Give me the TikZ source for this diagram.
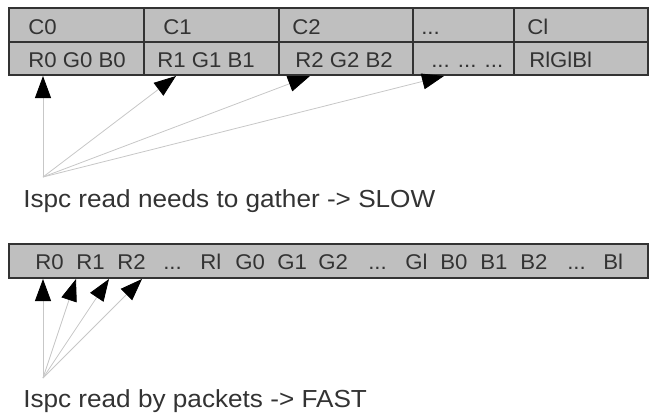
\documentclass[tikz,border=0pt]{standalone}
\usepackage{fontspec}
\setmainfont{Liberation Sans}
\newfontfamily\cellfont[FakeStretch=1.04]{Liberation Sans}
\newfontfamily\labfont[FakeStretch=1.06]{Liberation Sans}
\usetikzlibrary{arrows.meta}
\newcommand\mydots{...}
\begin{document}
\begin{tikzpicture}[x=0.75pt,y=-0.75pt,
  box/.style={draw=black!80, line width=1.2pt, fill=gray!50},
  sep/.style={draw=black!80, line width=1.2pt},
  txt/.style={anchor=base west, inner sep=0pt, text=black!80, font=\cellfont\fontsize{16}{19}\selectfont},
  lab/.style={anchor=base west, inner sep=0pt, text=black!80, font=\labfont\fontsize{18.5}{22}\selectfont},
  ptr/.style={draw=black!22, line width=0.6pt, -{Triangle[length=16.5pt,width=12pt,color=black]}}]
\useasboundingbox (0,0) rectangle (649,414);
% top table
\draw[box] (9,8) rectangle (648,75);
\draw[sep] (9,42) -- (648,42);
\foreach \x in {144,279,413,514} \draw[sep] (\x,8) -- (\x,75);
\node[txt] (c0) at (28,34) {C0};
\node[txt] (c1) at (163,34) {C1};
\node[txt] (c2) at (292,34) {C2};
\node[txt] (cd) at (421,34) {...};
\node[txt] (cl) at (527,34) {Cl};
\node[txt] (p0) at (28,67) {R0 G0 B0};
\node[txt] (p1) at (157,67) {R1 G1 B1};
\node[txt] (p2) at (295,67) {R2 G2 B2};
\node[txt] (pd) at (431,67) {... ... ...};
\node[txt] (pl) at (529,67) {RlGlBl};
% top arrows
\coordinate (o1) at (43,177);
\coordinate (t1) at (43,76);
\coordinate (t2) at (176,76);
\coordinate (t3) at (310,76);
\coordinate (t4) at (444,76);
\foreach \t in {t1,t2,t3,t4} \draw[ptr] (o1) -- (\t);
\node[lab] (l1) at (23,207) {Ispc read needs to gather -> SLOW};
% bottom bar
\draw[box] (9,244) rectangle (648,278);
\foreach \x/\s [count=\i] in {35/R0,76/R1,117/R2,163/\mydots,200/Rl,235/G0,277/G1,318/G2,368/\mydots,405/Gl,440/B0,480/B1,520/B2,567/\mydots,603/Bl}
  \node[txt] (b\i) at (\x,269) {\s};
\coordinate (o2) at (43,378);
\coordinate (u1) at (43,279);
\coordinate (u2) at (76,279);
\coordinate (u3) at (109,279);
\coordinate (u4) at (142,279);
\foreach \t in {u1,u2,u3,u4} \draw[ptr] (o2) -- (\t);
\node[lab] (l2) at (23,407) {Ispc read by packets -> FAST};
\end{tikzpicture}
\end{document}
